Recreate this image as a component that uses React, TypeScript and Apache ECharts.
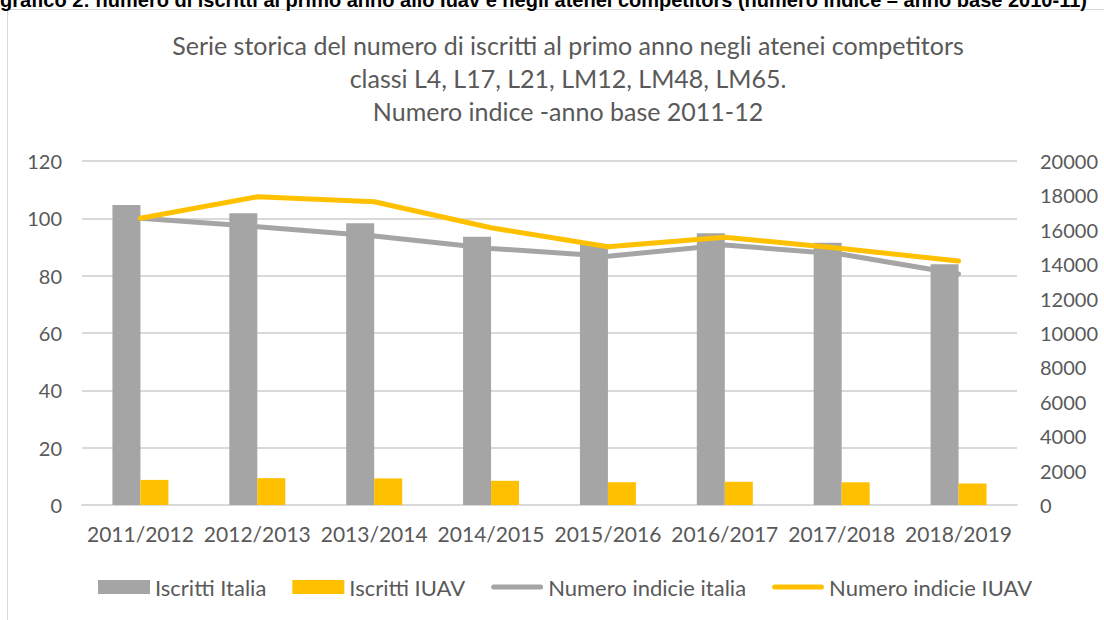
import React, { useEffect, useRef } from "react";
import * as echarts from "echarts";

const categories = ["2011/2012", "2012/2013", "2013/2014", "2014/2015", "2015/2016", "2016/2017", "2017/2018", "2018/2019"];
const iscrittiItalia = [17440, 16960, 16380, 15600, 15180, 15800, 15250, 13990];
const iscrittiIUAV = [1460, 1560, 1545, 1405, 1325, 1350, 1320, 1250];
const indiceItalia = [100, 97.1, 93.8, 89.5, 86.8, 90.7, 87.5, 80.6];
const indiceIUAV = [100, 107.5, 105.8, 96.7, 90.1, 93.4, 89.5, 85.1];
const leftTicks = { min: 0, max: 120, interval: 20 };
const rightTicks = { min: 0, max: 20000, interval: 2000 };

const FONT = "Lato";
const TXT = "#595959";
const GRAY = "#a5a5a5";
const GOLD = "#ffc000";
const LINE_ICON = "path://M2.5,0 L49.5,0 A2.5,2.5 0 0 1 49.5,5 L2.5,5 A2.5,2.5 0 0 1 2.5,0 Z";

export default function App() {
  const ref = useRef<HTMLDivElement>(null);
  useEffect(() => {
    document.body.style.margin = "0";
    const chart = echarts.init(ref.current!, undefined, { renderer: "svg" });
    chart.setOption({
      animation: false,
      backgroundColor: "#ffffff",
      title: {
        text: "Serie storica del numero di iscritti al primo anno negli atenei competitors\nclassi L4, L17, L21, LM12, LM48, LM65.\nNumero indice -anno base 2011-12",
        left: 563,
        top: 23,
        textAlign: "center",
        textStyle: { fontFamily: FONT, fontSize: 25, fontWeight: "normal", color: TXT, lineHeight: 33 },
      },
      graphic: [
        {
          type: "rect",
          shape: { x: 7.5, y: 9.5, width: 1200, height: 700 },
          style: { fill: "none", stroke: "#d9d9d9", lineWidth: 1 },
          silent: true,
        },
        {
          type: "text",
          x: 0,
          y: 10,
          style: {
            text: "grafico 2: numero di iscritti al primo anno allo Iuav e negli atenei competitors (numero indice – anno base 2010-11)",
            fontFamily: "Liberation Sans",
            fontWeight: "bold",
            fontSize: 20,
            fill: "#000000",
            textVerticalAlign: "bottom",
            verticalAlign: "bottom",
          },
          silent: true,
        },
      ],
      legend: {
        left: 93,
        top: 571,
        itemGap: 26,
        itemWidth: 52,
        itemHeight: 14,
        symbolKeepAspect: true,
        textStyle: { fontFamily: FONT, fontSize: 22, color: TXT },
        data: [
          { name: "Iscritti Italia", icon: "rect" },
          { name: "Iscritti IUAV", icon: "rect" },
          { name: "Numero indicie italia", icon: LINE_ICON },
          { name: "Numero indicie IUAV", icon: LINE_ICON },
        ],
      },
      grid: { left: 82, right: 87, top: 161, bottom: 115 },
      xAxis: {
        type: "category",
        data: categories,
        axisLine: { lineStyle: { color: "#d9d9d9", width: 2 } },
        axisTick: { show: false },
        axisLabel: { fontFamily: FONT, fontSize: 21, color: TXT, margin: 18, interval: 0 },
      },
      yAxis: [
        {
          type: "value",
          ...leftTicks,
          axisLine: { show: false },
          axisTick: { show: false },
          splitLine: { lineStyle: { color: "#d9d9d9", width: 2 } },
          axisLabel: { fontFamily: FONT, fontSize: 20, color: TXT, margin: 20 },
        },
        {
          type: "value",
          ...rightTicks,
          axisLine: { show: false },
          axisTick: { show: false },
          splitLine: { show: false },
          axisLabel: { fontFamily: FONT, fontSize: 20, color: TXT, margin: 23, formatter: (v: number) => String(v) },
        },
      ],
      series: [
        {
          name: "Iscritti Italia",
          type: "bar",
          yAxisIndex: 1,
          data: iscrittiItalia,
          barWidth: 28,
          barGap: "0%",
          itemStyle: { color: GRAY },
        },
        {
          name: "Iscritti IUAV",
          type: "bar",
          yAxisIndex: 1,
          data: iscrittiIUAV,
          barWidth: 28,
          barGap: "0%",
          itemStyle: { color: GOLD },
        },
        {
          name: "Numero indicie italia",
          type: "line",
          yAxisIndex: 0,
          data: indiceItalia,
          symbol: "none",
          showSymbol: false,
          itemStyle: { color: GRAY },
          lineStyle: { color: GRAY, width: 5, cap: "round", join: "round" },
          z: 3,
        },
        {
          name: "Numero indicie IUAV",
          type: "line",
          yAxisIndex: 0,
          data: indiceIUAV,
          symbol: "none",
          showSymbol: false,
          itemStyle: { color: GOLD },
          lineStyle: { color: GOLD, width: 5, cap: "round", join: "round" },
          z: 4,
        },
      ],
    });
    return () => chart.dispose();
  }, []);
  return <div ref={ref} style={{ position: "fixed", left: 0, top: 0, width: 1104, height: 620 }} />;
}
